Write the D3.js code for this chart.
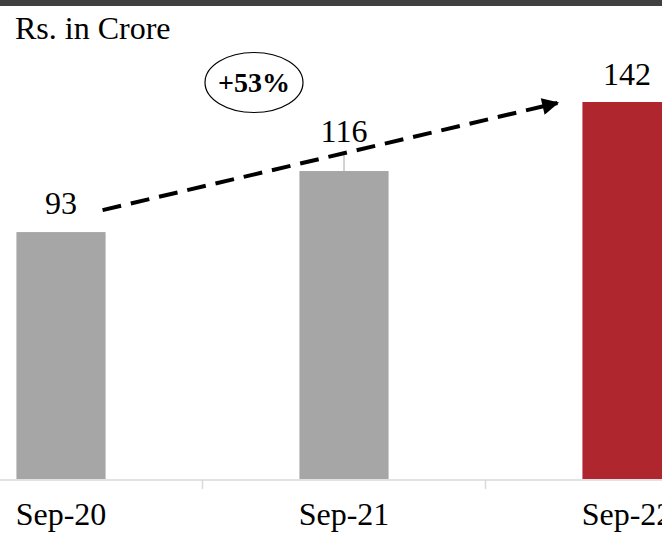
<!DOCTYPE html>
<html>
<head>
<meta charset="utf-8">
<script src="https://cdn.jsdelivr.net/npm/d3@7"></script>
<style>
  html, body { margin: 0; padding: 0; background: #fff; }
  svg { display: block; }
  text { font-family: "Liberation Serif", "Times New Roman", serif; }
</style>
</head>
<body>
<svg id="chart" width="662" height="533"></svg>
<script>
const categories = ["Sep-20", "Sep-21", "Sep-22"];
const values = [93, 116, 142];
const barColors = ["#a6a6a6", "#a6a6a6", "#b0262f"];
const unitLabel = "Rs. in Crore";
const growthLabel = "+53%";

const W = 662, H = 533;
const svg = d3.select("#chart");

// top dark strip
svg.append("rect").attr("x", 0).attr("y", 0).attr("width", W).attr("height", 6).attr("fill", "#404040");

const x = d3.scaleBand().domain(categories).range([-80.5, 768.5])
  .paddingInner(0.685).paddingOuter(0.3425);
const y = d3.scaleLinear().domain([0, 142]).range([479, 102]);

// bars
svg.selectAll("rect.bar").data(values).enter().append("rect")
  .attr("class", "bar")
  .attr("x", (d, i) => x(categories[i]))
  .attr("y", d => y(d))
  .attr("width", x.bandwidth())
  .attr("height", d => y(0) - y(d))
  .attr("fill", (d, i) => barColors[i]);

// x axis
const axis = svg.append("g").attr("transform", `translate(0,${y(0) + 1})`);
axis.append("line").attr("x1", 0).attr("x2", W).attr("y1", 0).attr("y2", 0)
  .attr("stroke", "#d9d9d9").attr("stroke-width", 1.5);
categories.slice(1).forEach(c => {
  const tx = x(c) - x.step() * x.paddingInner() / 2;
  axis.append("line").attr("x1", tx).attr("x2", tx).attr("y1", 0).attr("y2", 9)
    .attr("stroke", "#d9d9d9").attr("stroke-width", 1.5);
});
svg.selectAll("text.cat").data(categories).enter().append("text")
  .attr("class", "cat")
  .attr("x", d => x(d) + x.bandwidth() / 2)
  .attr("y", 525)
  .attr("text-anchor", "middle")
  .attr("font-size", 32)
  .attr("fill", "#000")
  .text(d => d);

// value labels
const labelGap = [18, 29, 17];
svg.selectAll("text.val").data(values).enter().append("text")
  .attr("class", "val")
  .attr("x", (d, i) => x(categories[i]) + x.bandwidth() / 2)
  .attr("y", (d, i) => y(d) - labelGap[i])
  .attr("text-anchor", "middle")
  .attr("font-size", 32)
  .attr("fill", "#000")
  .text(d => d);

// leader line for 116
const cx1 = x(categories[1]) + x.bandwidth() / 2;
svg.append("line").attr("x1", cx1).attr("x2", cx1)
  .attr("y1", y(values[1]) - 19).attr("y2", y(values[1]))
  .attr("stroke", "#a6a6a6").attr("stroke-width", 1);

// unit label
svg.append("text").attr("x", 15).attr("y", 39).attr("font-size", 32).attr("fill", "#000").text(unitLabel);

// dashed arrow
const defs = svg.append("defs");
defs.append("marker").attr("id", "arrow").attr("viewBox", "0 0 10 10")
  .attr("refX", 9).attr("refY", 5).attr("markerWidth", 5).attr("markerHeight", 4.2)
  .attr("orient", "auto").attr("markerUnits", "strokeWidth")
  .append("path").attr("d", "M0,0 L10,5 L0,10 Z").attr("fill", "#000");
const ax0 = x(categories[0]) + x.bandwidth() - 3, ay0 = y(values[0]) - 22;
const ax1 = x(categories[2]) - 25, ay1 = y(values[2]) + 1;
svg.append("line").attr("x1", ax0).attr("y1", ay0).attr("x2", ax1 - 10).attr("y2", ay1 + (ay0 - ay1) * 10 / (ax1 - ax0))
  .attr("stroke", "#000").attr("stroke-width", 4).attr("stroke-dasharray", "19,10");
svg.append("line").attr("x1", ax1 - 14).attr("y1", ay1 + (ay0 - ay1) * 14 / (ax1 - ax0))
  .attr("x2", ax1).attr("y2", ay1)
  .attr("stroke", "#000").attr("stroke-width", 4).attr("marker-end", "url(#arrow)");

// growth ellipse
svg.append("ellipse").attr("cx", 254).attr("cy", 82.5).attr("rx", 49).attr("ry", 30)
  .attr("fill", "#fff").attr("stroke", "#000").attr("stroke-width", 1.2);
svg.append("text").attr("x", 254).attr("y", 92).attr("text-anchor", "middle")
  .attr("font-size", 28).attr("font-weight", "bold").attr("fill", "#000").text(growthLabel);
</script>
</body>
</html>
